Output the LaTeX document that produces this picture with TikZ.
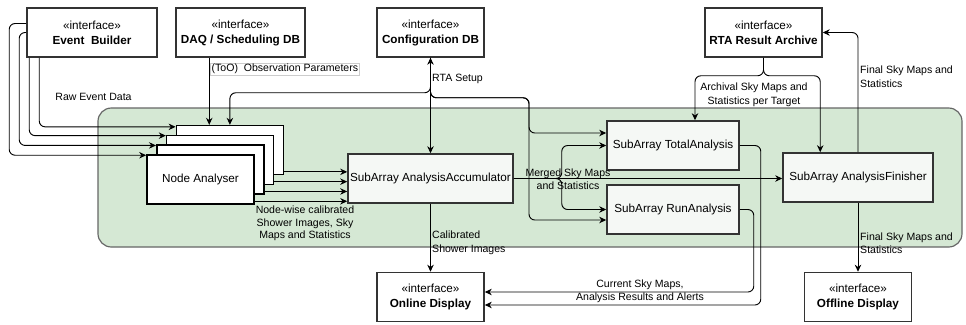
\documentclass[tikz,border=0pt]{standalone}
\usepackage{fontspec}
\setmainfont{Liberation Sans}
\usetikzlibrary{arrows.meta,calc,positioning}
\definecolor{panelgreen}{HTML}{D5E8D4}
\definecolor{paneledge}{HTML}{666666}
\definecolor{boxedge}{HTML}{333333}
\definecolor{boxfill}{HTML}{F5F8F5}
\tikzstyle{iface}=[rectangle,draw=boxedge,line width=1.3pt,fill=white,
                   minimum width=3.21cm,minimum height=1.47cm,align=center,
                   font=\fontsize{10}{12.8}\selectfont]
\tikzstyle{comp}=[rectangle,draw=boxedge,line width=1.3pt,fill=boxfill,
                  minimum height=1.47cm,inner sep=1pt]
\tikzstyle{analyser}=[rectangle,draw=black,line width=1.3pt,fill=white,
                      minimum width=3.21cm,minimum height=1.47cm]
\tikzstyle{flow}=[-{Stealth[length=6pt,width=5.5pt]},line width=0.8pt,
                  rounded corners=5pt]
\tikzstyle{biflow}=[{Stealth[length=6pt,width=5.5pt]}-{Stealth[length=6pt,width=5.5pt]},
                    line width=0.8pt]
\tikzstyle{lbl}=[inner sep=0pt,align=center,font=\fontsize{9}{11.5}\selectfont]
\tikzstyle{panel}=[fill=panelgreen,draw=paneledge,line width=1pt,rounded corners=0.4cm]

\begin{document}
\begin{tikzpicture}[x=0.03cm,y=-0.03cm,font=\fontsize{10}{12}\selectfont]
  \useasboundingbox (0,0) rectangle (966,324);
  \draw[panel] (98,108) rectangle (962,247);

  \node[iface,minimum width=3.9cm]  (eb)  at (92,32.5)    {«interface»\\\textbf{Event\ \ Builder}};
  \node[iface,minimum width=3.87cm] (daq) at (240.5,32.5) {«interface»\\\textbf{DAQ / Scheduling DB}};
  \node[iface]                      (cfg) at (430.5,32.5) {«interface»\\\textbf{Configuration DB}};
  \node[iface,minimum width=3.51cm] (rta) at (763.5,32.5) {«interface»\\\textbf{RTA Result Archive}};
  \node[iface] (online)  at (430.5,297) {«interface»\\\textbf{Online Display}};
  \node[iface] (offline) at (858,297)   {«interface»\\\textbf{Offline Display}};

  \node[analyser] (na4) at (229.9,150.1) {};
  \node[analyser] (na3) at ($(na4)+(-9.8,9.8)$) {};
  \node[analyser] (na2) at ($(na3)+(-9.8,9.8)$) {};
  \node[analyser] (na1) at ($(na2)+(-9.8,9.8)$) {Node Analyser};

  \node[comp,minimum width=4.95cm] (acc)   at (430.5,178.5) {SubArray AnalysisAccumulator};
  \node[comp,minimum width=3.96cm] (total) at (673,145.5)   {SubArray TotalAnalysis};
  \node[comp,minimum width=3.96cm] (run)   at (673,209.5)   {SubArray RunAnalysis};
  \node[comp,minimum width=4.5cm]  (fin)   at (858,177.5)   {SubArray AnalysisFinisher};

  % raw event data
  \draw[flow] ($(eb.south west)+(13,0)$) |- ($(na4.north west)+(0,2)$);
  \draw[flow] ($(eb.south west)+(3,0)$) |- ($(na3.north west)+(0,1)$);
  \draw[flow] (eb.west) -- ++(-7,0) |- ($(na2.north west)+(0,1)$);
  \draw[flow] ($(eb.west)+(0,-9)$) -- ++(-17,0) |- ($(na1.north west)+(0,1)$);
  \node[lbl] (rawlbl) at (93.5,97) {Raw Event Data};

  \draw[flow] ($(daq.south west)+(34,0)$) coordinate (tooin) -- (tooin |- na4.north);
  \node[lbl,draw=black!20,fill=white,inner sep=1pt,anchor=west] (toolbl)
       at ($(tooin)+(1,11.5)$) {(ToO)\ \ Observation Parameters};

  % configuration
  \draw[biflow] (cfg.south) -- (acc.north);
  \draw[flow] (cfg.south) -- ++(0,35) -| (na4.north);
  \draw[flow] (cfg.south) -- ++(0,40) -- ++(98.5,0) |- ($(total.west)+(0,-12.5)$);
  \draw[flow] (cfg.south) -- ++(0,40) -- ++(98.5,0) |- ($(run.west)+(0,10.5)$);
  \node[lbl,anchor=west] (cfglbl) at (432,79) {RTA Setup};

  \draw[flow] ($(na4.south east)+(0,-3.5)$) coordinate (o4) -- (o4 -| acc.west);
  \draw[flow] ($(na3.south east)+(0,-3.5)$) coordinate (o3) -- (o3 -| acc.west);
  \draw[flow] ($(na2.south east)+(0,-3.5)$) coordinate (o2) -- (o2 -| acc.west);
  \draw[flow] ($(na1.south east)+(0,-3.5)$) coordinate (o1) -- (o1 -| acc.west);
  \node[lbl,font=\fontsize{9}{10.7}\selectfont] (nwlbl) at (305,223.5)
       {Node-wise calibrated\\Shower Images, Sky\\Maps and Statistics};

  % merged maps
  \draw[flow] (acc.east) -- (acc.east -| fin.west);
  \draw[flow] (acc.east) -- ++(48,0) |- (total.west);
  \draw[flow] (acc.east) -- ++(48,0) |- (run.west);
  \node[lbl] (mglbl) at (568,179) {Merged Sky Maps\\and Statistics};

  % archive
  \draw[flow] (rta.south) -- ++(0,18) -| ($(total.north)+(22,0)$);
  \draw[flow] (rta.south) -- ++(0,18) -| ($(fin.north west)+(38,0)$);
  \node[lbl] (arclbl) at (754,95) {Archival Sky Maps and\\Statistics per Target};
  \draw[flow] (fin.north) |- (rta.east);
  \node[lbl,anchor=west,align=left] (finlbl) at (860,76.5) {Final Sky Maps and\\Statistics};

  % displays
  \draw[flow] (fin.south) -- (offline.north);
  \node[lbl,anchor=west,align=left] (offlbl) at (860,243) {Final Sky Maps and\\Statistics};
  \draw[flow] (acc.south) -- (online.north);
  \node[lbl,anchor=west,align=left] (callbl) at (432,243) {Calibrated\\Shower Images};
  \draw[flow] (total.east) -- ++(21,0) |- ($(online.east)+(0,8)$);
  \draw[flow] (run.east) -- ++(14,0) |- ($(online.east)+(0,-5)$);
  \node[lbl] (curlbl) at (640,291.5) {Current Sky Maps,\\Analysis Results and Alerts};
\end{tikzpicture}
\end{document}
